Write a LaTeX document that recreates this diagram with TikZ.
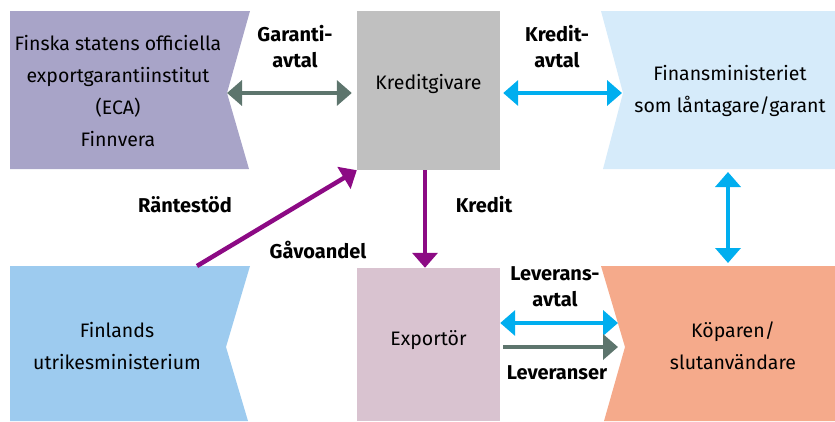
\documentclass[tikz,border=0pt]{standalone}
\usepackage{fontspec}
\setmainfont{Fira Sans}
\usetikzlibrary{positioning,arrows.meta}
\definecolor{ecapurple}{HTML}{A8A4C8}
\definecolor{kgray}{HTML}{C0C0C0}
\definecolor{finblue}{HTML}{D6EBFA}
\definecolor{umblue}{HTML}{9DCBEF}
\definecolor{exppink}{HTML}{D9C3D0}
\definecolor{kopsalmon}{HTML}{F5AA8B}
\definecolor{arrgray}{HTML}{5D756D}
\definecolor{arrblue}{HTML}{00AEEF}
\definecolor{arrpurple}{HTML}{8C0A84}
\tikzset{
  boxtext/.style={align=center,font=\fontsize{19.5}{32}\selectfont},
  flowlabel/.style={align=center,font=\bfseries\fontsize{20}{26}\selectfont},
  flowarrow/.style={line width=4.5pt,arrows={-Triangle[length=15pt,width=25pt]}},
  twoway/.style={flowarrow,arrows={Triangle[length=15pt,width=25pt]-Triangle[length=15pt,width=25pt]}}
}
\begin{document}
\begin{tikzpicture}[x=1pt,y=-1pt]
	\useasboundingbox (0,0) rectangle (835,421);
	%% some definitions
	\coordinate (ecatip) at (227,93);
	\coordinate (umtip) at (226,347);
	\coordinate (fintip) at (623,93);
	\coordinate (koptip) at (625,347);

	% shaped boxes
	\fill[ecapurple] (10,11) -- (250,11) -- (ecatip) -- (249,169) -- (10,169) -- cycle;
	\fill[umblue] (10,266) -- (250,266) -- (umtip) -- (248,421) -- (10,421) -- cycle;
	\fill[finblue] (601,11) -- (835,11) -- (835,169) -- (603,169) -- (fintip) -- cycle;
	\fill[kopsalmon] (601,266) -- (835,266) -- (835,421) -- (604,421) -- (koptip) -- cycle;

	\node[boxtext,fill=kgray,minimum width=143pt,minimum height=159pt,text depth=18pt] (kredit) at (428.5,90.5) {Kreditgivare};
	\node[boxtext,fill=exppink,minimum width=143pt,minimum height=153pt,text depth=12pt] (export) at (428.5,344.5) {Exportör};

	\node[boxtext] (eca) at (118,91) {Finska statens officiella\\exportgarantiinstitut\\(ECA)\\Finnvera};
	\node[boxtext] (fin) at (730,91) {Finansministeriet\\som låntagare/garant};
	\node[boxtext] (um) at (117,346) {Finlands\\utrikesministerium};
	\node[boxtext] (kop) at (733,346) {Köparen/\\slutanvändare};

	\coordinate (finbot) at (728,169);
	\coordinate (koptop) at (728,266);
	\coordinate (umtop) at (197,266);
	\coordinate (kopedge) at (618,323);

	% connectors
	\draw[twoway,arrgray,shorten >=5pt] (ecatip) -- (ecatip -| kredit.west);
	\draw[twoway,arrblue,shorten <=3pt,shorten >=1pt] (ecatip -| kredit.east) -- (fintip);
	\draw[twoway,arrblue,shorten <=3pt,shorten >=3pt] (finbot) -- (koptop);
	\draw[flowarrow,arrpurple] ([xshift=-3.5pt]kredit.south) -- ([xshift=-3.5pt]export.north);
	\draw[flowarrow,arrpurple] (umtop) -- (kredit.south west);
	\draw[twoway,arrblue] (export.east |- kopedge) -- (kopedge);
	\draw[flowarrow,arrgray,shorten <=3pt,shorten >=7pt] (export.east |- koptip) -- (koptip);

	% labels
	\node[flowlabel] (garanti) at (295,47) {Garanti-\\avtal};
	\node[flowlabel] (kreditavtal) at (557,47) {Kredit-\\avtal};
	\node[flowlabel] (rante) at (185,205) {Räntestöd};
	\node[flowlabel] (gavo) at (318,250) {Gåvoandel};
	\node[flowlabel] (kreditlbl) at (484,205) {Kredit};
	\node[flowlabel] (leveravtal) at (555,287) {Leverans-\\avtal};
	\node[flowlabel] (lever) at (557,373) {Leveranser};
\end{tikzpicture}
\end{document}
